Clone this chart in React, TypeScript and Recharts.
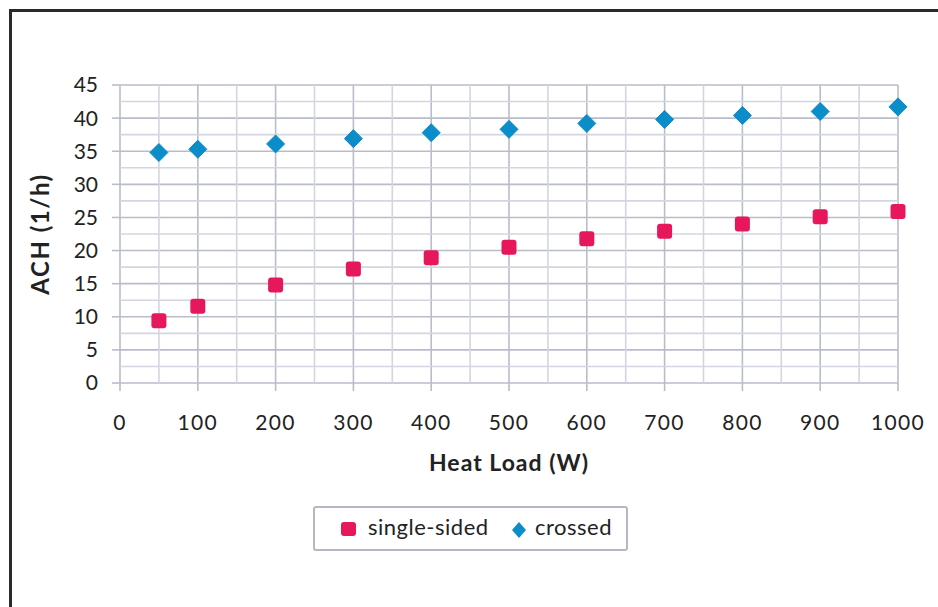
import React from 'react';
import {
  ScatterChart,
  Scatter,
  XAxis,
  YAxis,
  CartesianGrid,
  ReferenceLine,
  Label,
} from 'recharts';

// Heat load (W) vs air changes per hour
const heatLoad = [50, 100, 200, 300, 400, 500, 600, 700, 800, 900, 1000];
const singleSided = [9.4, 11.6, 14.8, 17.2, 18.9, 20.5, 21.8, 22.9, 24.0, 25.1, 25.9];
const crossed = [34.8, 35.3, 36.1, 36.9, 37.8, 38.3, 39.2, 39.8, 40.4, 41.0, 41.7];

const xTicks = [0, 100, 200, 300, 400, 500, 600, 700, 800, 900, 1000];
const yTicks = [0, 5, 10, 15, 20, 25, 30, 35, 40, 45];
const xMinorGrid = [50, 150, 250, 350, 450, 550, 650, 750, 850, 950];
const yMinorGrid = [2.5, 7.5, 12.5, 17.5, 22.5, 27.5, 32.5, 37.5, 42.5];

const RED = '#e6175b';
const BLUE = '#0b8dca';
const FONT = 'Lato, "Open Sans", sans-serif';

const singleData = heatLoad.map((x, i) => ({ x, y: singleSided[i] }));
const crossedData = heatLoad.map((x, i) => ({ x, y: crossed[i] }));

const SquareDot = (props: any) => {
  const { cx, cy } = props;
  return <rect x={cx - 7.5} y={cy - 7.5} width={15} height={15} rx={3} fill={RED} />;
};

const DiamondDot = (props: any) => {
  const { cx, cy } = props;
  const r = 9;
  return (
    <polygon
      points={`${cx},${cy - r} ${cx + r},${cy} ${cx},${cy + r} ${cx - r},${cy}`}
      fill={BLUE}
      strokeLinejoin="round"
      stroke={BLUE}
      strokeWidth={1}
    />
  );
};

const xTickStyle = { fontSize: 21, fill: '#222', fontFamily: FONT, letterSpacing: 1.3 };
const yTickStyle = { fontSize: 21, fill: '#222', fontFamily: FONT };

export default function App() {
  return (
    <div>
      {/* frame */}
      <div
        style={{
          position: 'absolute',
          left: 9,
          top: 9,
          width: 929,
          height: 598,
          boxSizing: 'border-box',
          borderLeft: '3px solid #2a2a2a',
          borderTop: '3px solid #2a2a2a',
        }}
      />
      <div style={{ position: 'absolute', left: 0, top: 0 }}>
        <ScatterChart
          width={938}
          height={607}
          margin={{ top: 85, right: 40, bottom: 124, left: 0 }}
        >
          <CartesianGrid stroke="#b9bdca" strokeWidth={1.6} />
          {xMinorGrid.map((v) => (
            <ReferenceLine key={`vx-${v}`} x={v} stroke="#d3d6e0" strokeWidth={1.6} />
          ))}
          {yMinorGrid.map((v) => (
            <ReferenceLine key={`hy-${v}`} y={v} stroke="#d3d6e0" strokeWidth={1.6} />
          ))}
          <XAxis
            type="number"
            dataKey="x"
            domain={[0, 1000]}
            ticks={xTicks}
            height={100}
            axisLine={false}
            tickLine={{ stroke: '#b9bdca', strokeWidth: 1.6 }}
            tickSize={8}
            tickMargin={24}
            tick={xTickStyle}
          >
            <Label
              content={(p: any) => {
                const vb = p.viewBox;
                return (
                  <text
                    x={vb.x + vb.width / 2}
                    y={vb.y + 79}
                    textAnchor="middle"
                    dominantBaseline="central"
                    fontSize={23}
                    fontWeight={700}
                    letterSpacing={1}
                    fontFamily={FONT}
                    fill="#222"
                  >
                    Heat Load (W)
                  </text>
                );
              }}
            />
          </XAxis>
          <YAxis
            type="number"
            dataKey="y"
            domain={[0, 45]}
            ticks={yTicks}
            width={120}
            axisLine={false}
            tickLine={{ stroke: '#b9bdca', strokeWidth: 1.6 }}
            tickSize={8}
            tickMargin={14}
            tick={yTickStyle}
          >
            <Label
              content={(p: any) => {
                const vb = p.viewBox;
                const cx = vb.x + 39;
                const cy = vb.y + vb.height / 2;
                return (
                  <text
                    x={cx}
                    y={cy}
                    transform={`rotate(-90, ${cx}, ${cy})`}
                    textAnchor="middle"
                    dominantBaseline="central"
                    fontSize={24}
                    fontWeight={700}
                    letterSpacing={1.5}
                    fontFamily={FONT}
                    fill="#222"
                  >
                    ACH (1/h)
                  </text>
                );
              }}
            />
          </YAxis>
          <Scatter
            name="single-sided"
            data={singleData}
            shape={SquareDot}
            isAnimationActive={false}
          />
          <Scatter
            name="crossed"
            data={crossedData}
            shape={DiamondDot}
            isAnimationActive={false}
          />
        </ScatterChart>
      </div>
      {/* legend */}
      <div
        style={{
          position: 'absolute',
          left: 313,
          top: 506,
          width: 315,
          height: 45,
          boxSizing: 'border-box',
          border: '2px solid #b4b8c2',
          borderRadius: 3,
          fontFamily: FONT,
          fontSize: 22,
          letterSpacing: 0.5,
          color: '#222',
        }}
      >
        <div
          style={{
            position: 'absolute',
            left: 26,
            top: 14,
            width: 15,
            height: 14,
            borderRadius: 3,
            background: RED,
          }}
        />
        <div style={{ position: 'absolute', left: 53, top: 5, lineHeight: '28px' }}>
          single-sided
        </div>
        <svg
          style={{ position: 'absolute', left: 195, top: 13 }}
          width={18}
          height={18}
          viewBox="0 0 18 18"
        >
          <polygon points="9,1 16,9 9,17 2,9" fill={BLUE} />
        </svg>
        <div style={{ position: 'absolute', left: 220, top: 5, lineHeight: '28px' }}>
          crossed
        </div>
      </div>
    </div>
  );
}
